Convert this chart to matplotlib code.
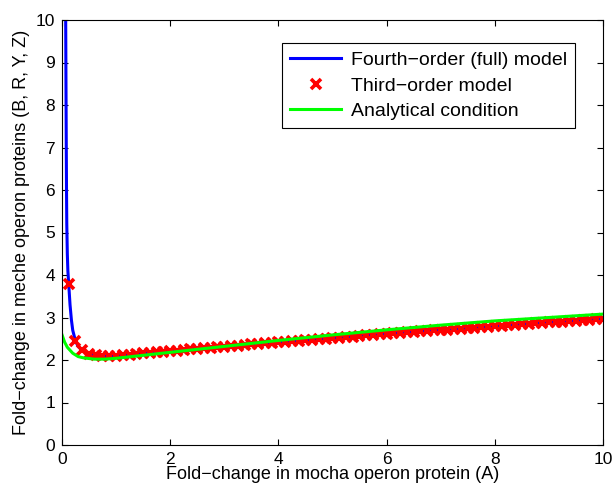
import matplotlib
matplotlib.use("Agg")
import matplotlib.pyplot as plt

plt.rcParams["font.family"] = ["Liberation Sans", "DejaVu Sans"]

# fourth-order (full) model, blue line
full_x = [0.068, 0.075, 0.08, 0.085, 0.09, 0.1, 0.11, 0.125, 0.15, 0.175, 0.2,
          0.25, 0.3, 0.375, 0.5, 0.625, 0.75, 0.875, 1.0,
          2, 3, 4, 5, 6, 7, 8, 9, 10]
full_y = [10.5, 8.5, 7.2, 6.0, 5.2, 4.5, 4.1, 3.8, 3.3, 2.95, 2.7,
          2.45, 2.32, 2.23, 2.15, 2.11, 2.09, 2.09, 2.10,
          2.209, 2.314, 2.417, 2.516, 2.613, 2.706, 2.796, 2.884, 2.969]

# third-order model, red crosses every 0.125
third_x = [0.125 * k for k in range(1, 81)]
third_y = [3.80, 2.45, 2.24, 2.15, 2.11, 2.09, 2.09, 2.100,
           2.114, 2.127, 2.141, 2.155, 2.168, 2.182, 2.195, 2.209,
           2.222, 2.235, 2.248, 2.262, 2.275, 2.288, 2.301, 2.314,
           2.327, 2.340, 2.353, 2.366, 2.378, 2.391, 2.404, 2.417,
           2.429, 2.442, 2.454, 2.467, 2.479, 2.491, 2.504, 2.516,
           2.528, 2.540, 2.552, 2.565, 2.577, 2.589, 2.601, 2.613,
           2.624, 2.636, 2.648, 2.660, 2.671, 2.683, 2.695, 2.706,
           2.717, 2.729, 2.740, 2.752, 2.763, 2.774, 2.785, 2.796,
           2.807, 2.818, 2.829, 2.841, 2.851, 2.862, 2.873, 2.884,
           2.894, 2.905, 2.916, 2.927, 2.937, 2.948, 2.958, 2.969]

# analytical condition, green line
anal_x = [0.0, 0.05, 0.1, 0.2, 0.3, 0.4, 0.6, 0.8, 1.0,
          2, 3, 4, 5, 6, 7, 8, 9, 10]
anal_y = [2.6, 2.42, 2.3, 2.16, 2.08, 2.05, 2.02, 2.02, 2.04,
          2.18, 2.32, 2.46, 2.59, 2.71, 2.82, 2.92, 3.0, 3.08]

fig = plt.figure(figsize=(6.13, 5.0), dpi=100)
ax = fig.add_axes([0.101, 0.11, 0.8826, 0.85])

ax.plot(full_x, full_y, color="#0000ff", lw=2.2, label="Fourth\u2212order (full) model")
ax.plot(third_x, third_y, "x", color="#ff0000", ms=7, mew=2.6, label="Third\u2212order model")
ax.plot(anal_x, anal_y, color="#00ff00", lw=2.2, label="Analytical condition")

ax.set_xlim(0, 10)
ax.set_ylim(0, 10)
ax.set_xticks(range(0, 11, 2))
ax.set_yticks(range(0, 11))
ax.tick_params(direction="in", top=True, right=True, length=4, labelsize=12.5, pad=5)
ax.set_xlabel("Fold\u2212change in mocha operon protein (A)", fontsize=13, labelpad=-1)
ax.set_ylabel("Fold\u2212change in meche operon proteins (B, R, Y, Z)", fontsize=13, labelpad=4)

leg = ax.legend(loc="upper right", bbox_to_anchor=(0.948, 0.946), borderaxespad=0,
                fontsize=14, fancybox=False, framealpha=1, edgecolor="black",
                handlelength=2.6, labelspacing=0.42, handletextpad=0.5,
                borderpad=0.42)
leg.get_frame().set_linewidth(0.8)

fig.savefig("out.png", dpi=100)
